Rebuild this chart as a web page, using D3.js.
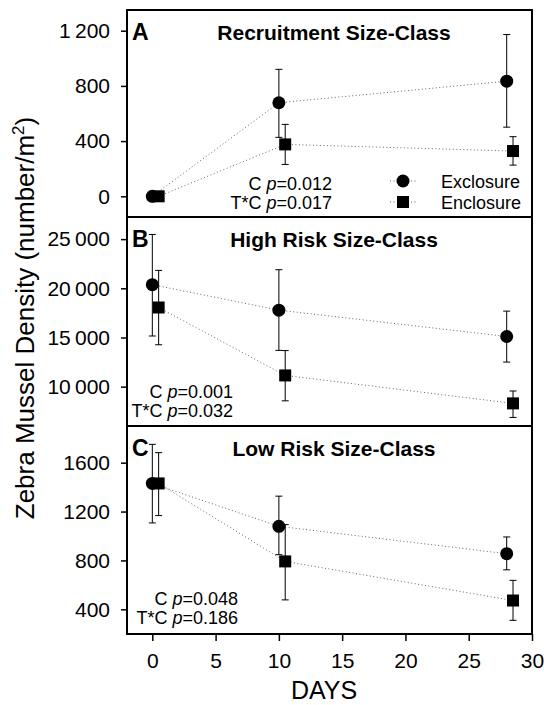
<!DOCTYPE html>
<html lang="en">
<head>
<meta charset="UTF-8">
<title>Zebra Mussel Density</title>
<script src="https://d3js.org/d3.v7.min.js"></script>
<style>
  body { margin: 0; background: #fff; }
  text { font-family: "Liberation Sans", Arial, sans-serif; fill: #000; }
  .bold { font-weight: bold; }
</style>
</head>
<body>
<script>
// sampling days; enclosure points drawn half a day to the right
var days = [0, 10, 28];
var enclShift = 0.5;
var xTicks = [0, 5, 10, 15, 20, 25, 30];

// A: recruitment size-class
var recExcl = [0, 678, 834], recExclLo = [0, 427, 501], recExclHi = [0, 920, 1172];
var recEncl = [0, 376, 328], recEnclLo = [0, 231, 226], recEnclHi = [0, 521, 432];
var recTicks = [0, 400, 800, 1200];

// B: high risk size-class
var highExcl = [20370, 17780, 15100], highExclLo = [15150, 13690, 12500], highExclHi = [25475, 21890, 17680];
var highEncl = [18050, 11140, 8300], highEnclLo = [14260, 8560, 6870], highEnclHi = [21820, 13670, 9560];
var highTicks = [10000, 15000, 20000, 25000];

// C: low risk size-class
var lowExcl = [1430, 1079, 855], lowExclLo = [1107, 847, 723], lowExclHi = [1750, 1326, 992];
var lowEncl = [1430, 792, 472], lowEnclLo = [1167, 477, 310], lowEnclHi = [1682, 1093, 637];
var lowTicks = [400, 800, 1200, 1600];

var width = 544, height = 705;
var left = 127, right = 532;

var svg = d3.select("body").append("svg")
    .attr("width", width)
    .attr("height", height);

var x = d3.scaleLinear().domain([-2, 30]).range([left, right]);

var thin = d3.format(",");
function spaced(d) { return thin(d).replace(/,/g, "\u2009"); }

function marker(g, shape, cx, cy) {
  if (shape === "circle") {
    g.append("circle").attr("cx", cx).attr("cy", cy).attr("r", 6.5).attr("fill", "#000");
  } else {
    g.append("rect").attr("x", cx - 6).attr("y", cy - 6)
        .attr("width", 12).attr("height", 12).attr("fill", "#000");
  }
}

function panel(opt) {
  var y = d3.scaleLinear().domain(opt.domain).range([opt.bottom, opt.top]);
  var g = svg.append("g");

  var ax = g.append("g")
      .attr("transform", "translate(" + left + ",0)")
      .call(d3.axisLeft(y).tickValues(opt.ticks).tickSize(6).tickPadding(11).tickFormat(opt.fmt));
  ax.select(".domain").remove();
  ax.selectAll("line").attr("stroke", "#000").attr("stroke-width", 1.5);
  ax.selectAll("text").style("font-size", "21px").style("font-family", "Liberation Sans, Arial, sans-serif");

  var series = [
    {xs: days.map(function(d){ return d; }), v: opt.excl, lo: opt.exclLo, hi: opt.exclHi, shape: "circle"},
    {xs: days.map(function(d){ return d + enclShift; }), v: opt.encl, lo: opt.enclLo, hi: opt.enclHi, shape: "square"}
  ];

  var line = d3.line()
      .x(function(d){ return x(d[0]); })
      .y(function(d){ return y(d[1]); });

  // dotted connecting lines
  series.forEach(function(s) {
    var pts = s.xs.map(function(d, i){ return [d, s.v[i]]; });
    g.append("path")
        .attr("d", line(pts))
        .attr("fill", "none")
        .attr("stroke", "#666")
        .attr("stroke-width", 1)
        .attr("stroke-dasharray", "1,2.5");
  });

  // error bars
  series.forEach(function(s) {
    s.xs.forEach(function(d, i) {
      if (s.hi[i] === s.lo[i]) return;
      var cx = x(d);
      g.append("line").attr("x1", cx).attr("x2", cx)
          .attr("y1", y(s.lo[i])).attr("y2", y(s.hi[i]))
          .attr("stroke", "#000").attr("stroke-width", 1);
      [s.lo[i], s.hi[i]].forEach(function(e) {
        g.append("line").attr("x1", cx - 3.5).attr("x2", cx + 3.5)
            .attr("y1", y(e)).attr("y2", y(e))
            .attr("stroke", "#000").attr("stroke-width", 1);
      });
    });
  });

  series.forEach(function(s) {
    s.xs.forEach(function(d, i) {
      marker(g, s.shape, x(d), y(s.v[i]));
    });
  });

  // frame
  g.append("rect")
      .attr("x", left).attr("y", opt.top)
      .attr("width", right - left).attr("height", opt.bottom - opt.top)
      .attr("fill", "none").attr("stroke", "#000").attr("stroke-width", 2);

  g.append("text").attr("class", "bold")
      .attr("x", 132).attr("y", opt.top + 30)
      .style("font-size", "23px")
      .text(opt.letter);

  g.append("text").attr("class", "bold")
      .attr("x", 334).attr("y", opt.top + 30)
      .attr("text-anchor", "middle")
      .style("font-size", "21px")
      .text(opt.title);

  var st = g.append("g").style("font-size", "18px").attr("text-anchor", "end");
  opt.stats.forEach(function(s, i) {
    var t = st.append("text").attr("x", opt.statX).attr("y", opt.statY + i * 19);
    t.append("tspan").text(s[0] + " ");
    t.append("tspan").style("font-style", "italic").text("p");
    t.append("tspan").text("=" + s[1]);
  });
  return y;
}

panel({
  top: 10, bottom: 217, domain: [-150, 1350], ticks: recTicks, fmt: spaced,
  excl: recExcl, exclLo: recExclLo, exclHi: recExclHi,
  encl: recEncl, enclLo: recEnclLo, enclHi: recEnclHi,
  letter: "A", title: "Recruitment Size-Class",
  stats: [["C", "0.012"], ["T*C", "0.017"]], statX: 332, statY: 190
});

panel({
  top: 217, bottom: 426, domain: [6000, 27250], ticks: highTicks, fmt: spaced,
  excl: highExcl, exclLo: highExclLo, exclHi: highExclHi,
  encl: highEncl, enclLo: highEnclLo, enclHi: highEnclHi,
  letter: "B", title: "High Risk Size-Class",
  stats: [["C", "0.001"], ["T*C", "0.032"]], statX: 233, statY: 398
});

panel({
  top: 426, bottom: 634, domain: [198, 1900], ticks: lowTicks, fmt: d3.format("d"),
  excl: lowExcl, exclLo: lowExclLo, exclHi: lowExclHi,
  encl: lowEncl, enclLo: lowEnclLo, enclHi: lowEnclHi,
  letter: "C", title: "Low Risk Size-Class",
  stats: [["C", "0.048"], ["T*C", "0.186"]], statX: 238, statY: 605
});

// legend in panel A
var legend = svg.append("g").style("font-size", "18px");
[["circle", "Exclosure"], ["square", "Enclosure"]].forEach(function(d, i) {
  var ly = 181 + i * 21;
  legend.append("line").attr("x1", 390).attr("x2", 416).attr("y1", ly).attr("y2", ly)
      .attr("stroke", "#666").attr("stroke-dasharray", "1,2.5");
  marker(legend, d[0], 403, ly);
  legend.append("text").attr("x", 441).attr("y", ly + 6.5).text(d[1]);
});

// x axis under panel C
var xa = svg.append("g")
    .attr("transform", "translate(0,634)")
    .call(d3.axisBottom(x).tickValues(xTicks).tickSize(7).tickPadding(12));
xa.select(".domain").remove();
xa.selectAll("line").attr("stroke", "#000").attr("stroke-width", 1.5);
xa.selectAll("text").style("font-size", "21px").style("font-family", "Liberation Sans, Arial, sans-serif");

svg.append("text")
    .attr("x", 324).attr("y", 699)
    .attr("text-anchor", "middle")
    .style("font-size", "25px")
    .text("DAYS");

var yt = svg.append("text")
    .attr("transform", "translate(34,318) rotate(-90)")
    .attr("text-anchor", "middle")
    .style("font-size", "26px");
yt.append("tspan").text("Zebra Mussel Density (number/m");
yt.append("tspan").attr("dy", -10).style("font-size", "17px").text("2");
yt.append("tspan").attr("dy", 10).text(")");
</script>
</body>
</html>
